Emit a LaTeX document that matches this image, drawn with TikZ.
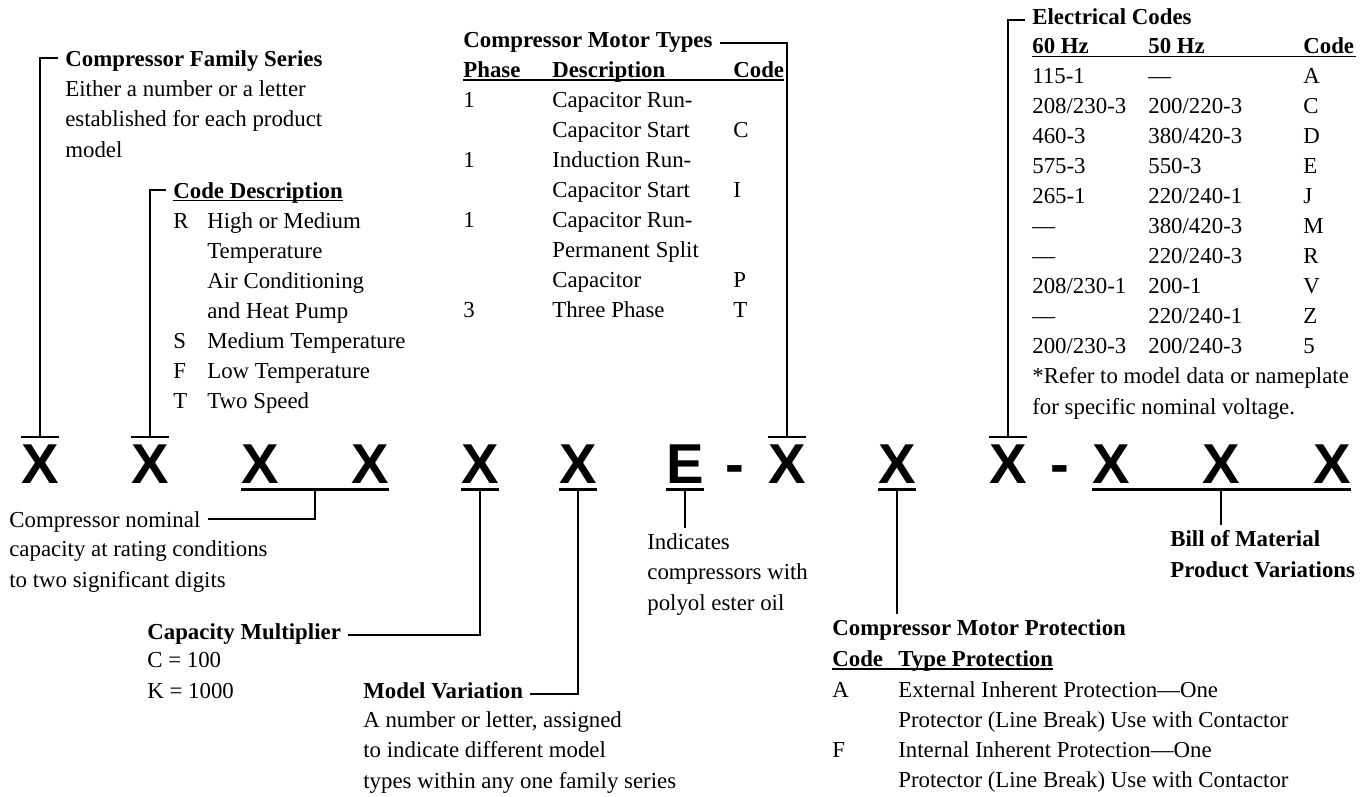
\documentclass[tikz,border=0pt]{standalone}
\usepackage{fontspec}
\setmainfont{Liberation Serif}
\newfontfamily\keyfont{Liberation Sans}
\usepackage{tikz}
\usetikzlibrary{positioning, calc}

\tikzset{
  keych/.style={font=\keyfont\bfseries\fontsize{32}{32}\selectfont, inner sep=0pt, anchor=base},
  txt/.style={font=\fontsize{13}{17.1}\selectfont, inner sep=0pt, anchor=base west, align=left},
  head/.style={txt, font=\fontsize{13}{17.1}\selectfont\bfseries},
  tab/.style={font=\fontsize{13}{17.1}\selectfont, inner sep=0pt, anchor=base west},
  bar/.style={line width=1.6pt},
  lead/.style={line width=1.1pt, shorten >=4pt},
  uline/.style={line width=0.6pt},
}

\begin{document}
\begin{tikzpicture}[x=0.2mm, y=-0.2mm]
        \fill[white] (0,0) rectangle (1366,796);
        \useasboundingbox (0,0) rectangle (1366,796);

        % model number
        \node[keych] (k1)  at (40,483)   {X};
        \node[keych] (k2)  at (150,483)  {X};
        \node[keych] (k3)  at (260,483)  {X};
        \node[keych] (k4)  at (370,483)  {X};
        \node[keych] (k5)  at (480,483)  {X};
        \node[keych] (k6)  at (578,483)  {X};
        \node[keych] (kE)  at (685,483)  {E};
        \node[keych] (d1)  at (735,483)  {-};
        \node[keych] (k7)  at (787,483)  {X};
        \node[keych] (k8)  at (897,483)  {X};
        \node[keych] (k9)  at (1008,483) {X};
        \node[keych] (d2)  at (1060,483) {-};
        \node[keych] (k10) at (1111,483) {X};
        \node[keych] (k11) at (1221,483) {X};
        \node[keych] (k12) at (1332,483) {X};

        \coordinate (o1) at ([yshift=4pt]k1.north);
        \coordinate (o2) at ([yshift=4pt]k2.north);
        \coordinate (o7) at ([yshift=4pt]k7.north);
        \coordinate (o9) at ([yshift=4pt]k9.north);
        \coordinate (u34) at ($(k3.south)!.5!(k4.south)+(0pt,-3.4pt)$);
        \coordinate (u5) at ([yshift=-3.4pt]k5.south);
        \coordinate (u6) at ([yshift=-3.4pt]k6.south);
        \coordinate (uE) at ([yshift=-3.4pt]kE.south);
        \coordinate (u8) at ([yshift=-3.4pt]k8.south);
        \coordinate (ubom) at ([yshift=-3.4pt]k11.south);

        \draw[bar] ([yshift=4pt]k1.north west) -- ([yshift=4pt]k1.north east);
        \draw[bar] ([yshift=4pt]k2.north west) -- ([yshift=4pt]k2.north east);
        \draw[bar] ([yshift=4pt]k7.north west) -- ([yshift=4pt]k7.north east);
        \draw[bar] ([yshift=4pt]k9.north west) -- ([yshift=4pt]k9.north east);
        \draw[bar] ([yshift=-3.4pt]k3.south west) -- ([yshift=-3.4pt]k4.south east);
        \draw[bar] ([yshift=-3.4pt]k5.south west) -- ([yshift=-3.4pt]k5.south east);
        \draw[bar] ([yshift=-3.4pt]k6.south west) -- ([yshift=-3.4pt]k6.south east);
        \draw[bar] ([yshift=-3.4pt]kE.south west) -- ([yshift=-3.4pt]kE.south east);
        \draw[bar] ([yshift=-3.4pt]k8.south west) -- ([yshift=-3.4pt]k8.south east);
        \draw[bar] ([yshift=-3.4pt]k10.south west) -- ([yshift=-3.4pt]k12.south east);

        % upper notes (multi-line nodes sit on their last line)
        \node[head] (famhead) at (65,66) {Compressor Family Series};
        \node[txt] (famtxt) at (65,157) {Either a number or a letter\\established for each product\\model};

        \node[head] (cdhead) at (173,198) {Code Description};
        \node[tab] (cdtab) at (173,228) {\begin{tabular}[t]{@{}p{0.68cm}@{}l@{}}
            R & High or Medium\\ & Temperature\\ & Air Conditioning\\ & and Heat Pump\\
            S & Medium Temperature\\ F & Low Temperature\\ T & Two Speed
          \end{tabular}};

        \node[head] (mthead) at (463,47) {Compressor Motor Types};
        \node[tab] (mttab) at (463,77) {\begin{tabular}[t]{@{}p{1.78cm}@{}p{3.62cm}@{}l@{}}
            \textbf{Phase} & \textbf{Description} & \textbf{Code}\\
            1 & Capacitor Run- & \\ & Capacitor Start & C\\
            1 & Induction Run- & \\ & Capacitor Start & I\\
            1 & Capacitor Run- & \\ & Permanent Split & \\ & Capacitor & P\\
            3 & Three Phase & T
          \end{tabular}};

        \node[head] (eltitle) at (1032,24) {Electrical Codes};
        \node[tab] (eltab) at (1032,53) {\begin{tabular}[t]{@{}p{2.32cm}@{}p{3.1cm}@{}p{1.04cm}@{}}
            \textbf{60 Hz} & \textbf{50 Hz} & \textbf{Code}\\
            115-1 & — & A\\
            208/230-3 & 200/220-3 & C\\
            460-3 & 380/420-3 & D\\
            575-3 & 550-3 & E\\
            265-1 & 220/240-1 & J\\
            — & 380/420-3 & M\\
            — & 220/240-3 & R\\
            208/230-1 & 200-1 & V\\
            — & 220/240-1 & Z\\
            200/230-3 & 200/240-3 & 5
          \end{tabular}};
        \node[txt] (elnote) at (1032,414) {*Refer to model data or nameplate\\for specific nominal voltage.};

        % lower notes
        \node[txt] (nom1) at (9,527) {Compressor nominal};
        \node[txt] (nom2) at (9,587) {capacity at rating conditions\\to two significant digits};

        \node[head] (cmhead) at (147,639) {Capacity Multiplier};
        \node[txt] (cmtxt) at (147,698) {C = 100\\K = 1000};

        \node[head] (mvhead) at (363,698) {Model Variation};
        \node[txt] (mvtxt) at (363,788) {A number or letter, assigned\\to indicate different model\\types within any one family series};

        \node[txt] (indtxt) at (647,610) {Indicates\\compressors with\\polyol ester oil};

        \node[head] (mphead) at (832,635) {Compressor Motor Protection};
        \node[tab] (mpcols) at (832,666) {\begin{tabular}[t]{@{}p{1.32cm}@{}l@{}}
            \textbf{Code} & \textbf{Type Protection}
          \end{tabular}};
        \node[tab] (mptab) at (832,697) {\begin{tabular}[t]{@{}p{1.32cm}@{}l@{}}
            A & External Inherent Protection—One\\ & Protector (Line Break) Use with Contactor\\
            F & Internal Inherent Protection—One\\ & Protector (Line Break) Use with Contactor
          \end{tabular}};

        \node[head] (bomtxt) at (1170,577) {Bill of Material\\Product Variations};

        % underlines
        \draw[uline] ([yshift=-1.5pt]cdhead.base west) -- ([yshift=-1.5pt]cdhead.base east);
        \draw[uline] ([yshift=-1.7pt]mttab.base west) -- ([yshift=-1.7pt]mttab.base east);
        \draw[uline] ([yshift=-2pt]eltab.base west) -- ([yshift=-2pt]eltab.base east);
        \draw[uline] ([yshift=-1.7pt]mpcols.base west) -- ([yshift=-1.7pt]mpcols.base east);

        % leaders
        \draw[lead] (o1) |- ([yshift=2.5pt]famhead.mid west);
        \draw[lead] (o2) |- ([yshift=2.5pt]cdhead.mid west);
        \draw[lead] (o7) |- (mthead.mid east);
        \draw[lead] (o9) |- (eltitle.mid west);
        \draw[lead] (u34) |- ([yshift=2pt]nom1.mid east);
        \draw[lead] (u5) |- (cmhead.mid east);
        \draw[lead] (u6) |- (mvhead.mid east);
        \draw[lead, shorten >=3pt] (uE) -- (uE |- indtxt.north);
        \draw[lead, shorten >=3pt] (u8) -- (u8 |- mphead.north);
        \draw[lead, shorten >=3pt] (ubom) -- (ubom |- bomtxt.north);
\end{tikzpicture}
\end{document}
